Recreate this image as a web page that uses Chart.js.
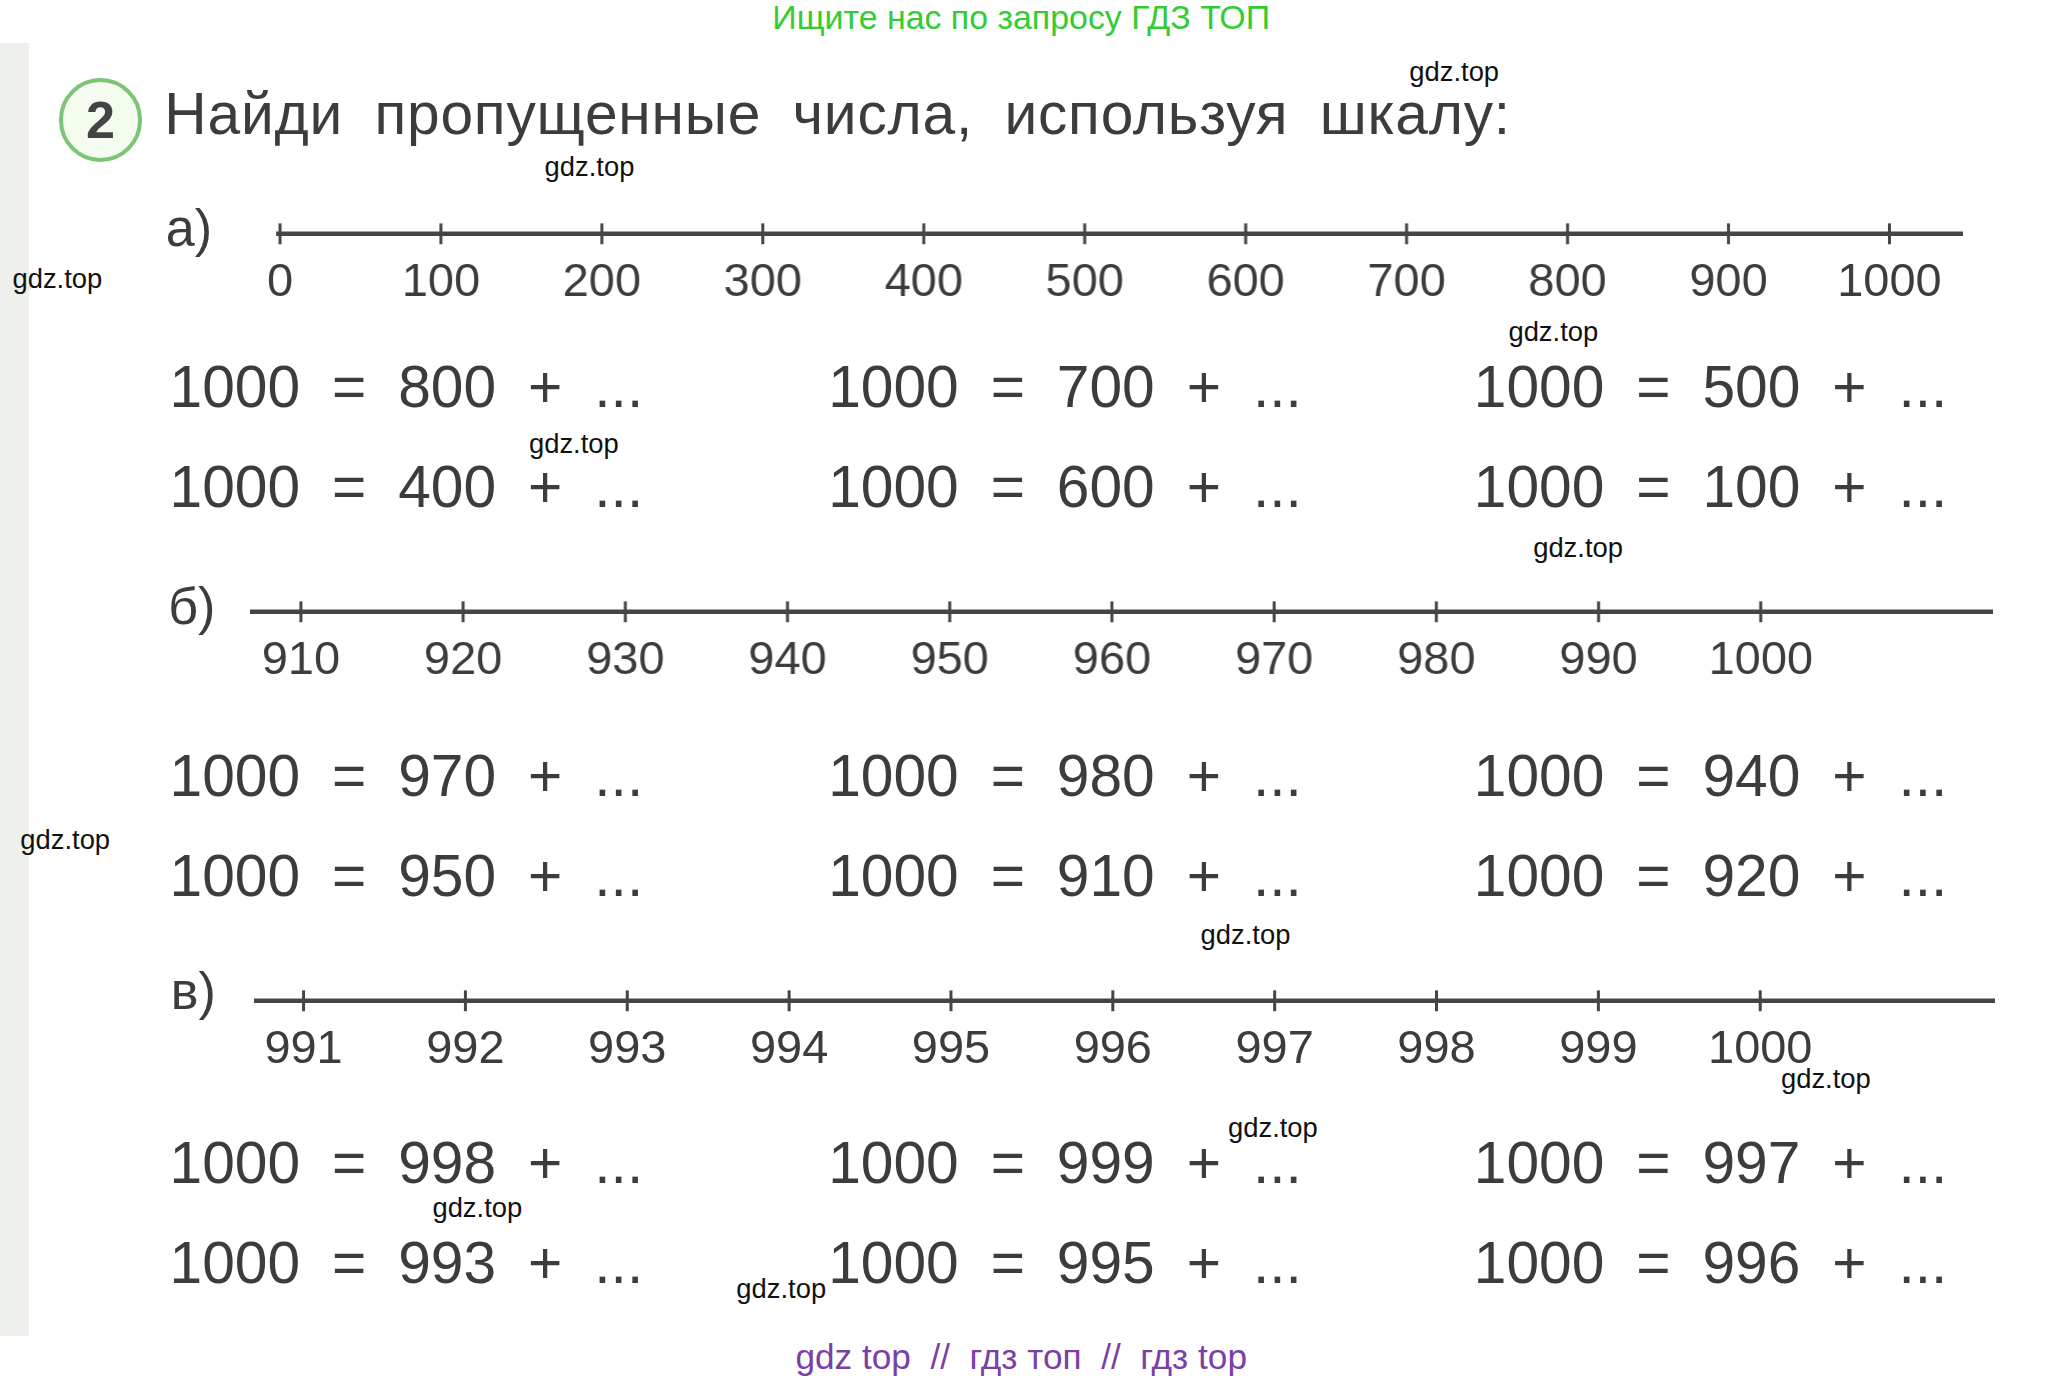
<!DOCTYPE html>
<html><head><meta charset="utf-8">
<script src="https://cdn.jsdelivr.net/npm/chart.js@4"></script>
<style>
body{margin:0;width:2045px;height:1381px;background:#fff;position:relative;overflow:hidden;font-family:"Liberation Sans",Arial,sans-serif}
.t{position:absolute;white-space:pre;color:#3c3c3c;line-height:1}
canvas{position:absolute}
</style></head><body>
<div id="page" style="position:absolute;left:0;top:43px;width:2035px;height:1293px;background:#fff;border-left:29px solid #eef0ec"></div>
<script>
// number line values
var valuesA = [0,100,200,300,400,500,600,700,800,900,1000];
var valuesB = [910,920,930,940,950,960,970,980,990,1000];
var valuesC = [991,992,993,994,995,996,997,998,999,1000];
var eqA = [["800","700","500"],["400","600","100"]];
var eqB = [["970","980","940"],["950","910","920"]];
var eqC = [["998","999","997"],["993","995","996"]];
var marks = [[1115,55],[452,128],[44,214],[1191,254],[440,340],[1210,420],[50,644],[955,717],[1400,827],[976,865],[366,926],[599,988]];

var S = 2045/1568;
function txt(s, x, y, size, color, extra){
  var d = document.createElement('div');
  d.className = 't';
  d.textContent = s;
  d.style.left = (x*S)+'px';
  d.style.top = ((y)*S - size*S*0.5)+'px';
  d.style.fontSize = (size*S)+'px';
  if (color) d.style.color = color;
  if (extra) Object.assign(d.style, extra);
  document.body.appendChild(d);
  return d;
}
function center(d){ d.style.transform = 'translateX(-50%)'; }

center(txt("Ищите нас по запросу ГДЗ ТОП", 783, 14, 26, "#33cc33"));
center(txt("gdz top  //  гдз топ  //  гдз top", 783, 1040, 27, "#7b3fa8"));

var c = document.createElement('div');
c.style.cssText = 'position:absolute;border:4px solid #7cc576;border-radius:50%;background:#f4fbef;'+
  'left:'+(45*S)+'px;top:'+(60*S)+'px;width:'+(58*S)+'px;height:'+(58*S)+'px;'+
  'display:flex;align-items:center;justify-content:center;font-weight:bold;color:#444;font-size:'+(40*S)+'px';
c.textContent = '2';
document.body.appendChild(c);
txt("Найди пропущенные числа, используя шкалу:", 126, 88, 45, "#3c3c3c", {wordSpacing: (11*S)+'px', letterSpacing:(0.6*S)+'px'});

txt("а)", 127, 175, 40);
txt("б)", 129, 465, 40);
txt("в)", 131, 760, 40);

function numberLine(values, x0, x1, yLine, firstX, spacing){
  var step = values[1]-values[0];
  var cv = document.createElement('canvas');
  var top = yLine - 25;
  var W = (x1-x0)*S, H = 90*S;
  cv.style.left = (x0*S)+'px';
  cv.style.top = (top*S)+'px';
  cv.style.width = W+'px';
  cv.style.height = H+'px';
  document.body.appendChild(cv);
  var p0 = (firstX-x0)*S, ps = spacing*S;
  function valAt(px){ return values[0] + (px-p0)/ps*step; }
  var chart = new Chart(cv, {
    type: 'scatter',
    data: { datasets: [
      { type:'line', data:[{x:valAt(0),y:0},{x:valAt(W),y:0}], borderColor:'#454545', borderWidth:4.5, pointRadius:0, clip:false },
      { data: values.map(function(v){return {x:v,y:0};}), pointStyle:'line', rotation:90,
        pointRadius:8*S, borderColor:'#454545', borderWidth:3, clip:false }
    ]},
    options: {
      responsive:false, animation:false, maintainAspectRatio:false,
      layout:{padding:0},
      plugins:{legend:{display:false}, tooltip:{enabled:false}},
      scales:{
        x:{ type:'linear', min:valAt(0), max:valAt(W), border:{display:false}, grid:{display:false},
            afterBuildTicks:function(s){ s.ticks = values.map(function(v){return {value:v};}); },
            ticks:{ color:'#3c3c3c', padding:0, maxRotation:0, autoSkip:false,
              callback:function(v){ return String(v); },
              font:{family:'Liberation Sans', size:36*S} } },
        y:{ display:false, min:-0.55, max:1 }
      }
    }
  });
  // fit the chart area so the line and labels land where the reference has them
  var a = chart.chartArea;
  var axisH = H - a.bottom;
  chart.resize(W, 31*S + axisH);
  a = chart.chartArea;
  chart.options.scales.x.min = valAt(a.left);
  chart.options.scales.x.max = valAt(a.right);
  chart.update();
}
numberLine(valuesA, 205, 1505, 176, 208, 124);
numberLine(valuesB, 192, 1528, 466, 231, 124.3);
numberLine(valuesC, 195, 1530, 764, 233, 124.1);

function equations(rows, y0, y1){
  var cols = [130, 635, 1130];
  [y0,y1].forEach(function(y, r){
    cols.forEach(function(x, i){
      txt("1000 = " + rows[r][i] + " + ...", x, y, 45, "#3c3c3c", {wordSpacing:(12*S)+'px'});
    });
  });
}
equations(eqA, 297, 374);
equations(eqB, 595, 672);
equations(eqC, 892, 969);

marks.forEach(function(m){ center(txt("gdz.top", m[0], m[1], 21, "#111")); });
</script>
</body></html>
